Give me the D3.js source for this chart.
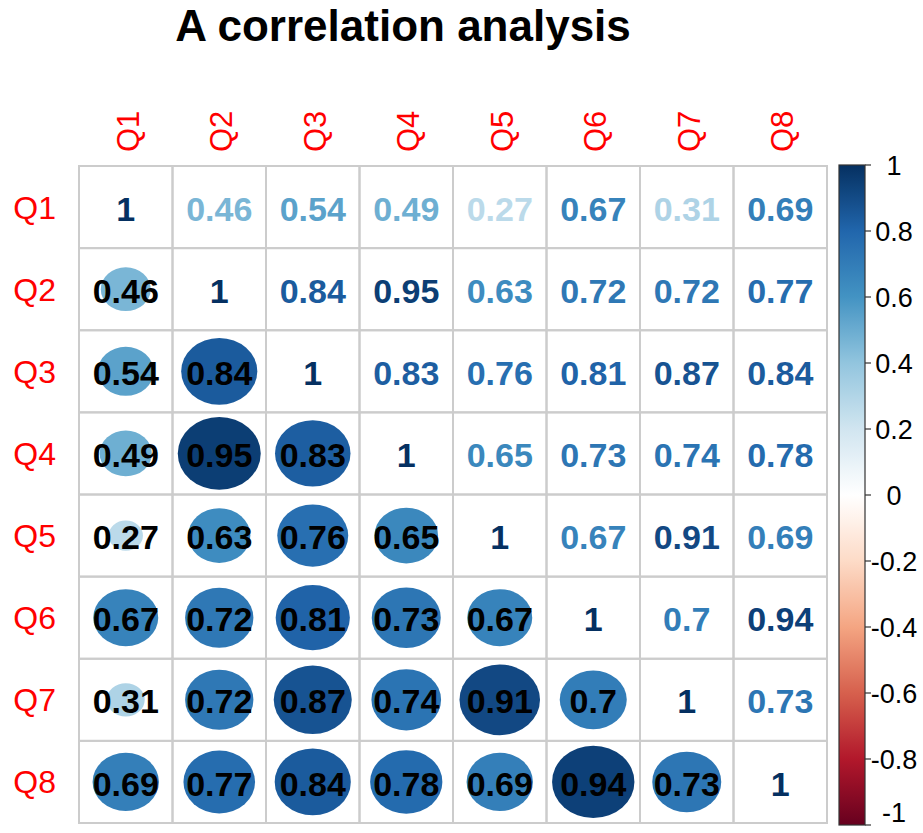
<!DOCTYPE html>
<html>
<head>
<meta charset="utf-8">
<script src="https://cdn.jsdelivr.net/npm/d3@7"></script>
<style>
  body { margin: 0; background: #fff; }
  svg { display: block; }
  text { font-family: "Liberation Sans", Arial, Helvetica, sans-serif; }
</style>
</head>
<body>
<svg id="chart" width="923" height="833"></svg>
<script>
// Variable names
const vars = ["Q1", "Q2", "Q3", "Q4", "Q5", "Q6", "Q7", "Q8"];

// Correlation matrix, one row per variable
const rowQ1 = [1, 0.46, 0.54, 0.49, 0.27, 0.67, 0.31, 0.69];
const rowQ2 = [0.46, 1, 0.84, 0.95, 0.63, 0.72, 0.72, 0.77];
const rowQ3 = [0.54, 0.84, 1, 0.83, 0.76, 0.81, 0.87, 0.84];
const rowQ4 = [0.49, 0.95, 0.83, 1, 0.65, 0.73, 0.74, 0.78];
const rowQ5 = [0.27, 0.63, 0.76, 0.65, 1, 0.67, 0.91, 0.69];
const rowQ6 = [0.67, 0.72, 0.81, 0.73, 0.67, 1, 0.7, 0.94];
const rowQ7 = [0.31, 0.72, 0.87, 0.74, 0.91, 0.7, 1, 0.73];
const rowQ8 = [0.69, 0.77, 0.84, 0.78, 0.69, 0.94, 0.73, 1];
const corrRows = [rowQ1, rowQ2, rowQ3, rowQ4, rowQ5, rowQ6, rowQ7, rowQ8];

// Colour legend ticks
const legendTicks = [1, 0.8, 0.6, 0.4, 0.2, 0, -0.2, -0.4, -0.6, -0.8, -1];

// Diverging red-blue palette from -1 to 1
const paletteStops = ["#67001F", "#B2182B", "#D6604D", "#F4A582", "#FDDBC7", "#FFFFFF",
                      "#D1E5F0", "#92C5DE", "#4393C3", "#2166AC", "#053061"];

const svg = d3.select("#chart");
const W = 923, H = 833;
svg.append("rect").attr("width", W).attr("height", H).attr("fill", "#fff");

const grid = { left: 79, right: 827, top: 166, bottom: 823 };
const x = d3.scaleBand().domain(vars).range([grid.left, grid.right]);
const y = d3.scaleBand().domain(vars).range([grid.top, grid.bottom]);

const color = d3.scaleLinear()
  .domain(paletteStops.map((_, i) => -1 + i * 0.2))
  .range(paletteStops)
  .interpolate(d3.interpolateRgb)
  .clamp(true);

// Circle radius grows with |r|; the vertical radius follows the cell aspect
const rx = d3.scalePow().exponent(0.7).domain([0, 1]).range([0, 43]);
const aspect = y.bandwidth() / x.bandwidth();

const fmt = v => (v === 1 ? "1" : String(+v.toFixed(2)));

const cells = [];
corrRows.forEach((row, i) => row.forEach((v, j) => cells.push({ i, j, r: vars[i], c: vars[j], v })));
const lower = cells.filter(d => d.i > d.j);
const upper = cells.filter(d => d.i <= d.j);

// Title
svg.append("text")
  .attr("x", 403).attr("y", 41)
  .attr("text-anchor", "middle")
  .attr("font-size", 44).attr("font-weight", "bold")
  .attr("fill", "#000")
  .text("A correlation analysis");

// Cell grid
svg.append("g").selectAll("rect").data(cells).join("rect")
  .attr("x", d => x(d.c)).attr("y", d => y(d.r))
  .attr("width", x.bandwidth()).attr("height", y.bandwidth())
  .attr("fill", "none").attr("stroke", "#cccccc").attr("stroke-width", 2);

// Lower triangle: circles with black values
svg.append("g").selectAll("ellipse").data(lower).join("ellipse")
  .attr("cx", d => x(d.c) + x.bandwidth() / 2)
  .attr("cy", d => y(d.r) + y.bandwidth() / 2)
  .attr("rx", d => rx(Math.abs(d.v)))
  .attr("ry", d => rx(Math.abs(d.v)) * aspect)
  .attr("fill", d => color(d.v));

svg.append("g").selectAll("text").data(lower).join("text")
  .attr("x", d => x(d.c) + x.bandwidth() / 2)
  .attr("y", d => y(d.r) + y.bandwidth() / 2)
  .attr("dy", "0.4em")
  .attr("text-anchor", "middle")
  .attr("font-size", 34).attr("font-weight", "bold")
  .attr("fill", "#000")
  .text(d => fmt(d.v));

// Upper triangle and diagonal: coloured values
svg.append("g").selectAll("text").data(upper).join("text")
  .attr("x", d => x(d.c) + x.bandwidth() / 2)
  .attr("y", d => y(d.r) + y.bandwidth() / 2)
  .attr("dy", "0.4em")
  .attr("text-anchor", "middle")
  .attr("font-size", 34).attr("font-weight", "bold")
  .attr("fill", d => color(d.v))
  .text(d => fmt(d.v));

// Column labels (rotated)
svg.append("g").selectAll("text").data(vars).join("text")
  .attr("transform", d => `translate(${x(d) + x.bandwidth() / 2 + 2},152) rotate(-90)`)
  .attr("dy", "0.36em")
  .attr("text-anchor", "start")
  .attr("font-size", 31)
  .attr("fill", "#ff0000")
  .text(d => d);

// Row labels
svg.append("g").selectAll("text").data(vars).join("text")
  .attr("x", 56)
  .attr("y", d => y(d) + y.bandwidth() / 2)
  .attr("dy", "0.36em")
  .attr("text-anchor", "end")
  .attr("font-size", 32)
  .attr("fill", "#ff0000")
  .text(d => d);

// Colour legend
const bar = { x: 839, w: 26, top: 165, bottom: 825 };
const ly = d3.scaleLinear().domain([-1, 1]).range([bar.bottom, bar.top]);

const defs = svg.append("defs");
const grad = defs.append("linearGradient").attr("id", "corrGrad")
  .attr("x1", 0).attr("y1", 1).attr("x2", 0).attr("y2", 0);
grad.selectAll("stop").data(d3.range(0, 1.0001, 0.02)).join("stop")
  .attr("offset", t => t)
  .attr("stop-color", t => color(-1 + 2 * t));

svg.append("rect")
  .attr("x", bar.x).attr("y", bar.top)
  .attr("width", bar.w).attr("height", bar.bottom - bar.top)
  .attr("fill", "url(#corrGrad)")
  .attr("stroke", "#333").attr("stroke-width", 1.2);

const legendAxis = svg.append("g");
legendAxis.selectAll("line").data(legendTicks).join("line")
  .attr("x1", bar.x + bar.w).attr("x2", bar.x + bar.w + 6)
  .attr("y1", d => ly(d)).attr("y2", d => ly(d))
  .attr("stroke", "#333").attr("stroke-width", 1.2);
legendAxis.selectAll("text").data(legendTicks).join("text")
  .attr("x", 894)
  .attr("y", d => Math.min(ly(d), 812))
  .attr("dy", "0.36em")
  .attr("text-anchor", "middle")
  .attr("font-size", 27)
  .attr("fill", "#000")
  .text(d => String(d));
</script>
</body>
</html>
